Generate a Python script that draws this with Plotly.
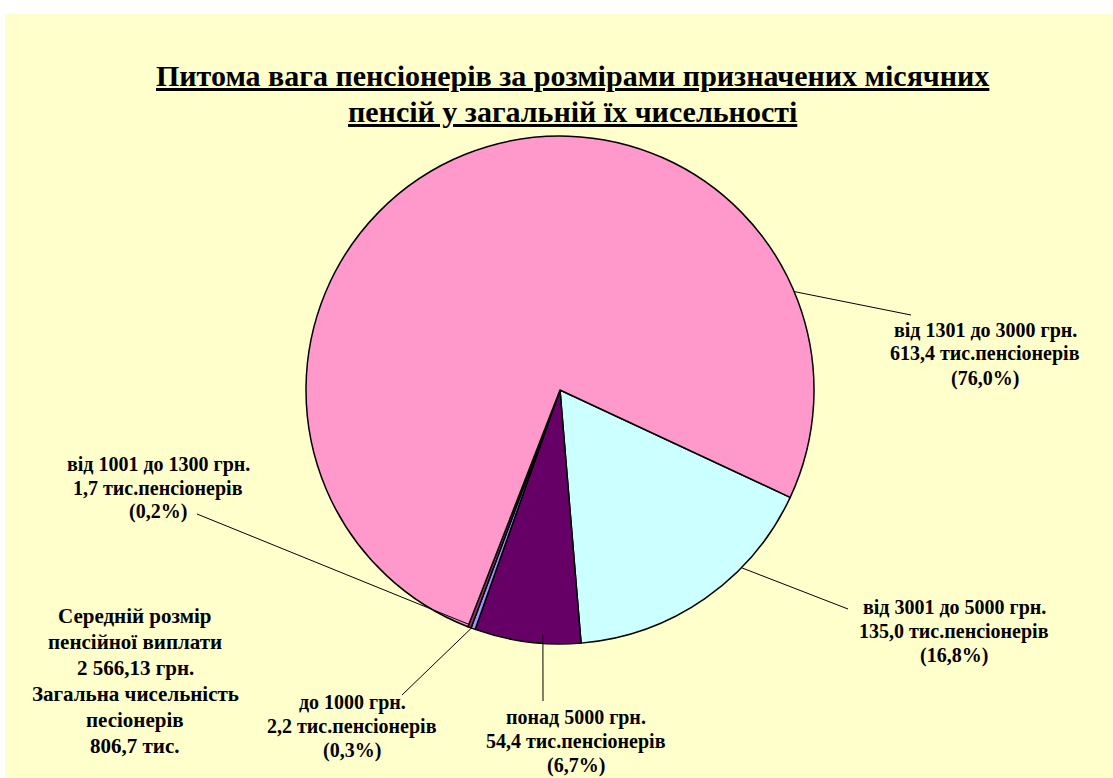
import plotly.graph_objects as go
import math

# ---- data ----
categories = ["від 3001 до 5000 грн.", "понад 5000 грн.", "до 1000 грн.",
              "від 1001 до 1300 грн.", "від 1301 до 3000 грн."]
pensioners_thousand = [135.0, 54.4, 2.2, 1.7, 613.4]
shares_pct = ["16,8", "6,7", "0,3", "0,2", "76,0"]
values_text = ["135,0", "54,4", "2,2", "1,7", "613,4"]
colors = ["#CCFFFF", "#660066", "#9999FF", "#993366", "#FF99CC"]

title_lines = ["Питома вага пенсіонерів за розмірами призначених місячних",
               "пенсій у загальній їх чисельності"]
footnote_lines = ["Середній розмір", "пенсійної виплати", "2 566,13 грн.",
                  "Загальна чисельність", "песіонерів", "806,7 тис."]

W, H = 1113, 778
FONT = "Liberation Serif"

# pie geometry (pixels)
cx, cy, R = 560, 390, 254


def px(x):
    return x / W


def py(y):
    return 1 - y / H


def text_block(lines, x, y_first, step, size):
    out = []
    for i, ln in enumerate(lines):
        out.append(dict(x=px(x), y=py(y_first + i * step), xref="paper", yref="paper",
                        xanchor="center", yanchor="middle", showarrow=False, align="center",
                        text=f"<b>{ln}</b>", font=dict(family=FONT, size=size, color="black")))
    return out


fig = go.Figure()
fig.add_trace(go.Pie(
    labels=categories, values=pensioners_thousand, sort=False,
    direction="clockwise", rotation=115,
    marker=dict(colors=colors, line=dict(color="black", width=1.5)),
    textinfo="none", hoverinfo="none", showlegend=False,
    domain=dict(x=[px(cx - R), px(cx + R)], y=[py(cy + R), py(cy - R)]),
))

# label placement (layout): first-line centre, leader start angle/radius fraction, leader end
label_pos = {
    "від 1301 до 3000 грн.": dict(tx=985, ty=330, ang=67.2, rf=1.0, ex=911, ey=315),
    "від 3001 до 5000 грн.": dict(tx=954, ty=607, ang=134.4, rf=1.0, ex=848, ey=609),
    "понад 5000 грн.": dict(tx=576, ty=717, ang=184.0, rf=0.965, ex=543, ey=701),
    "до 1000 грн.": dict(tx=352, ty=702, ang=200.4, rf=1.0, ex=402, ey=695),
    "від 1001 до 1300 грн.": dict(tx=158, ty=464, ang=201.2, rf=0.99, ex=197, ey=514),
}

shapes = [dict(type="rect", xref="paper", yref="paper", x0=px(5), x1=1, y0=0, y1=py(14),
               fillcolor="#FFFFCC", line=dict(width=0), layer="below")]
annotations = []
for cat, val, pct in zip(categories, values_text, shares_pct):
    p = label_pos[cat]
    a = math.radians(p["ang"])
    sx = cx + R * p["rf"] * math.sin(a)
    sy = cy - R * p["rf"] * math.cos(a)
    shapes.append(dict(type="line", xref="paper", yref="paper",
                       x0=px(sx), y0=py(sy), x1=px(p["ex"]), y1=py(p["ey"]),
                       line=dict(color="black", width=1)))
    annotations += text_block([cat, f"{val} тис.пенсіонерів", f"({pct}%)"],
                              p["tx"], p["ty"], 24, 20)

for i, ln in enumerate(title_lines):
    annotations.append(dict(
        x=px(572), y=py(76 + i * 36), xref="paper", yref="paper",
        xanchor="center", yanchor="middle", showarrow=False, align="center",
        text=f"<b><u>{ln}</u></b>",
        font=dict(family=FONT, size=30, color="black")))

annotations += text_block(footnote_lines, 135, 616, 26, 21)

fig.update_layout(
    width=W, height=H, margin=dict(l=0, r=0, t=0, b=0),
    paper_bgcolor="white", plot_bgcolor="white",
    shapes=shapes, annotations=annotations,
)
fig.write_html("out.html", config={"displayModeBar": False},
               post_script="document.body.style.margin='0';document.body.style.overflow='hidden';")
